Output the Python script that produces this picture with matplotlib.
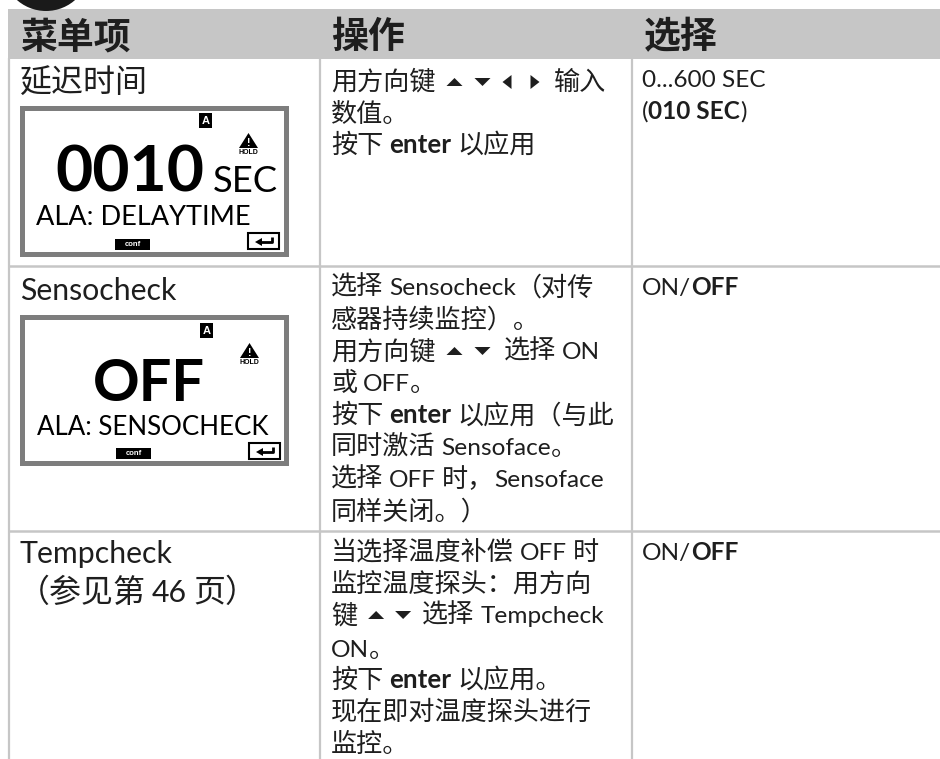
import re
import matplotlib
matplotlib.use("Agg")
import matplotlib.pyplot as plt
from matplotlib.patches import Rectangle, Polygon, Circle

CJK = "Noto Sans CJK SC"
BODY = ["Lato", CJK, "DejaVu Sans"]
SANS = "Liberation Sans"
GREY = "#c6c6c6"
INK = "#1e1e1e"

headers = ["菜单项", "操作", "选择"]
row_titles = ["延迟时间", "Sensocheck", "Tempcheck", "（参见第 46 页）"]

# each line: list of runs; str = regular, ("b", str) = bold, number = gap in px, ("t", kind) = key triangle
action_row1 = [
    ["用方向键", 11, ("t", "up"), 12, ("t", "down"), 12, ("t", "left"), 19, ("t", "right"), 14, "输入"],
    ["数值。"],
    ["按下", 6, ("b", "enter"), 6, "以应用"],
]
action_row2 = [
    ["选择 Sensocheck（对传"],
    ["感器持续监控）。"],
    ["用方向键", 11, ("t", "up"), 12, ("t", "down"), 13, "选择 ON"],
    ["或 OFF。"],
    ["按下", 6, ("b", "enter"), 6, "以应用（与此"],
    ["同时激活 Sensoface。"],
    ["选择 OFF 时，Sensoface"],
    ["同样关闭。）"],
]
action_row3 = [
    ["当选择温度补偿 OFF 时"],
    ["监控温度探头：用方向"],
    ["键", 11, ("t", "up"), 11, ("t", "down"), 11, "选择 Tempcheck"],
    ["ON。"],
    ["按下", 6, ("b", "enter"), 6, "以应用。"],
    ["现在即对温度探头进行"],
    ["监控。"],
]
choice_row1 = [["0...600 SEC"], ["(", ("b", "010 SEC"), ")"]]
choice_row2 = [["ON/", ("b", "OFF")]]
choice_row3 = [["ON/", ("b", "OFF")]]

lcd1_big, lcd1_unit, lcd1_line = "0010", "SEC", "ALA: DELAYTIME"
lcd2_big, lcd2_line = "OFF", "ALA: SENSOCHECK"

fig = plt.figure(figsize=(9.40, 7.59), dpi=100, facecolor="white")
ax = fig.add_axes([0, 0, 1, 1])
ax.set_xlim(0, 940)
ax.set_ylim(759, 0)
ax.axis("off")
renderer = fig.canvas.get_renderer()
SPLIT = re.compile(r"[\u3000-\u9fff\uff00-\uffef]+|[^\u3000-\u9fff\uff00-\uffef]+")


def tri(kind, x, base):
    cy = base - 8
    if kind == "up":
        pts = [(x, cy + 4), (x + 16, cy + 4), (x + 8, cy - 4)]
        w = 16
    elif kind == "down":
        pts = [(x, cy - 4), (x + 16, cy - 4), (x + 8, cy + 4)]
        w = 16
    elif kind == "left":
        pts = [(x + 9, cy - 7), (x + 9, cy + 7), (x, cy)]
        w = 9
    else:
        pts = [(x, cy - 7), (x, cy + 7), (x + 9, cy)]
        w = 9
    ax.add_patch(Polygon(pts, closed=True, fc=INK, ec="none", zorder=4))
    return w


def put(s, x, base, size, weight="normal"):
    t = ax.text(x, base, s, family=BODY, fontsize=size, color=INK, weight=weight, va="baseline", ha="left")
    return x + t.get_window_extent(renderer).width


def draw_plain(s, x, base, cjk_size, latin_size, space):
    for seg in SPLIT.findall(s):
        if re.match(r"[\u3000-\u9fff\uff00-\uffef]", seg):
            x = put(seg, x, base, cjk_size)
        else:
            if seg.startswith(" "):
                x += space
            x = put(seg.strip(), x, base, latin_size) if seg.strip() else x
            if seg.endswith(" ") and seg.strip():
                x += space
    return x


def draw_line(runs, x, base):
    for run in runs:
        if isinstance(run, (int, float)):
            x += run
        elif isinstance(run, tuple) and run[0] == "t":
            x += tri(run[1], x, base)
        elif isinstance(run, tuple):
            x = put(run[1], x, base, 17.6 if run[1] != "enter" else 18.6, "bold")
        else:
            x = draw_plain(run, x, base, 18.8, 17.6, 6)


def fit(s, x, base, width, weight, family="Lato"):
    t = ax.text(x, base, s, family=family, fontsize=20, weight=weight, color="black", va="baseline", zorder=3)
    w = t.get_window_extent(renderer).width
    t.set_fontsize(20 * width / w)


def lcd(x0, y0, a_x, a_y, hold_x, hold_y, conf_x, conf_y, ent_x, ent_y):
    ax.add_patch(Rectangle((x0 + 2.5, y0 + 2.5), 264, 146, fc="white", ec="#7d7d7d", lw=3.6, zorder=2))
    ax.add_patch(Rectangle((a_x, a_y), 13, 15, fc="black", ec="none", zorder=3))
    ax.text(a_x + 6.5, a_y + 7.8, "A", family=SANS, weight="bold", fontsize=8, color="white",
            ha="center", va="center", zorder=4)
    ax.add_patch(Polygon([(hold_x, hold_y + 15), (hold_x + 19, hold_y + 15), (hold_x + 9.5, hold_y)], fc="black", ec="none", zorder=3))
    ax.text(hold_x + 9.5, hold_y + 9.5, "!", family=SANS, weight="bold", fontsize=7.5, color="white",
            ha="center", va="center", zorder=4)
    ax.text(hold_x + 9.5, hold_y + 19.5, "HOLD", family=SANS, weight="bold", fontsize=5, color="black",
            ha="center", va="center", zorder=3)
    ax.add_patch(Rectangle((conf_x, conf_y), 35, 11, fc="black", ec="none", zorder=3))
    ax.text(conf_x + 17.5, conf_y + 5.3, "conf", family=SANS, weight="bold", fontsize=5.5, color="white",
            ha="center", va="center", zorder=4)
    ax.add_patch(Rectangle((ent_x, ent_y), 31, 16, fc="white", ec="black", lw=1.5, zorder=3))
    ax.plot([ent_x + 24, ent_x + 24, ent_x + 13], [ent_y + 4, ent_y + 9, ent_y + 9], color="black", lw=2, zorder=4, solid_capstyle="butt")
    ax.add_patch(Polygon([(ent_x + 7, ent_y + 9), (ent_x + 14, ent_y + 5), (ent_x + 14, ent_y + 13)], fc="black", ec="none", zorder=4))


# badge and header band
ax.add_patch(Circle((46, -33), 44, fc="#1a1a1a", ec="none", zorder=5))
ax.add_patch(Rectangle((8, 9), 932, 49.5, fc=GREY, ec="none", zorder=1))
for s, x in zip(headers, [20, 331, 644]):
    ax.text(x, 48, s, family=[CJK], weight="bold", fontsize=26.6, color=INK, va="baseline", zorder=6)

# grid
for x in [9, 320, 632]:
    ax.plot([x, x], [58, 759], color=GREY, lw=1.6, zorder=1, solid_capstyle="butt")
for y in [266, 531]:
    ax.plot([8, 940], [y, y], color=GREY, lw=1.8, zorder=1, solid_capstyle="butt")

# left column
draw_plain(row_titles[0], 20, 92, 23, 21.8, 6)
draw_plain(row_titles[1], 20, 300, 23, 21.8, 6)
draw_plain(row_titles[2], 20, 563, 23, 21.8, 6)
draw_plain(row_titles[3], 18, 602, 23, 21.8, 6)

lcd(19, 105, 199, 113, 239, 133, 115, 239, 248, 233)
fit(lcd1_big, 55, 191, 150, "bold")
fit(lcd1_unit, 213, 192, 65, "normal")
fit(lcd1_line, 36, 225, 214, "normal")
lcd(19, 314, 200, 323, 240, 343, 116, 448, 249, 443)
fit(lcd2_big, 93, 401, 112, "bold")
fit(lcd2_line, 37, 435, 231, "normal")

# middle and right columns
for lines, bases in [
    (action_row1, [90, 122, 153]),
    (action_row2, [295, 327, 359, 391, 423, 455, 487, 519]),
    (action_row3, [560, 592, 623, 657, 688, 720, 752]),
]:
    for runs, b in zip(lines, bases):
        draw_line(runs, 331, b)

for lines, bases in [(choice_row1, [87, 119]), (choice_row2, [295]), (choice_row3, [560])]:
    for runs, b in zip(lines, bases):
        draw_line(runs, 642, b)

fig.savefig("out.png", dpi=100, facecolor="white")
